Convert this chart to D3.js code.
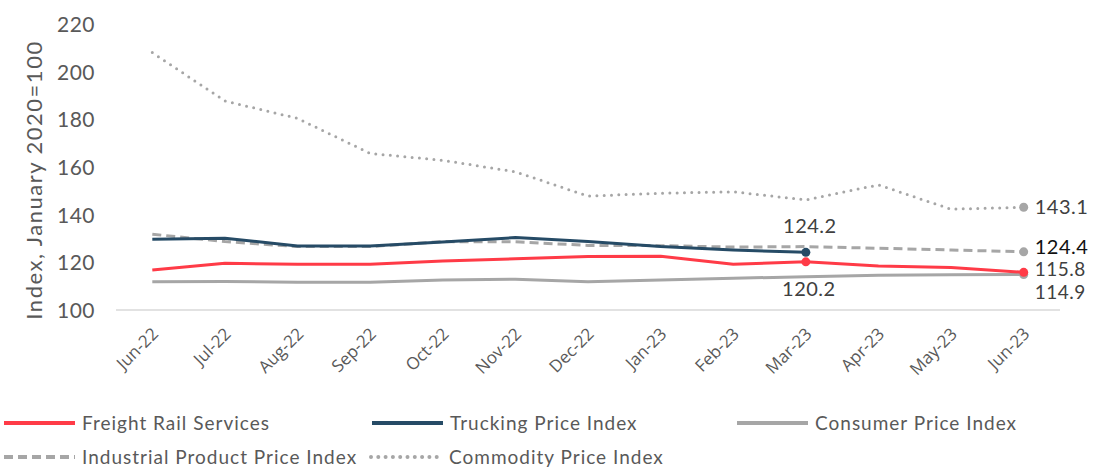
<!DOCTYPE html>
<html><head><meta charset="utf-8">
<script src="https://cdn.jsdelivr.net/npm/d3@7"></script>
<style>
body{margin:0;background:#fff;}
text{font-family:Lato,"Open Sans",sans-serif;}
</style></head>
<body><svg id="c" width="1093" height="469"></svg>
<script>
const months = ["Jun-22","Jul-22","Aug-22","Sep-22","Oct-22","Nov-22","Dec-22","Jan-23","Feb-23","Mar-23","Apr-23","May-23","Jun-23"];
const freightRail = [116.8,119.6,119.2,119.2,120.6,121.5,122.4,122.6,119.2,120.2,118.5,117.8,115.8];
const trucking = [129.7,130.1,126.9,126.9,128.5,130.4,128.7,126.6,125.2,124.2,null,null,null];
const cpi = [111.9,112.0,111.6,111.6,112.6,112.9,111.9,112.6,113.3,114.0,114.6,114.8,114.9];
const industrial = [131.8,128.7,126.6,126.6,128.7,128.6,127.1,127.0,126.4,126.6,125.9,125.2,124.4];
const commodity = [208.0,187.7,180.4,165.7,162.8,158.0,147.8,149.0,149.6,146.2,152.5,142.3,143.1];
const yTicks = [100,120,140,160,180,200,220];
const yTitle = "Index, January 2020=100";

const series = [
  {name:"Freight Rail Services", values:freightRail, color:"#ff3b47", dash:null, width:3},
  {name:"Trucking Price Index", values:trucking, color:"#264b66", dash:null, width:3},
  {name:"Consumer Price Index", values:cpi, color:"#a6a6a6", dash:null, width:3},
  {name:"Industrial Product Price Index", values:industrial, color:"#a6a6a6", dash:"9,5", width:3},
  {name:"Commodity Price Index", values:commodity, color:"#a6a6a6", dash:"0,7.3", width:3, cap:"round"}
];

const svg = d3.select("#c");
const x = d3.scaleBand().domain(months).range([116,1060]).padding(0);
const cx = d => x(d) + x.bandwidth()/2;
const y = d3.scaleLinear().domain([100,220]).range([310,24]);

// baseline
svg.append("line").attr("x1",116).attr("x2",1060).attr("y1",y(100)).attr("y2",y(100))
  .attr("stroke","#d9d9d9").attr("stroke-width",1.5);

// y axis
const yAxis = d3.axisLeft(y).tickValues(yTicks).tickSize(0).tickPadding(0);
const gy = svg.append("g").attr("transform","translate(95,0)").call(yAxis);
gy.select(".domain").remove();
gy.selectAll("text").attr("font-size",21).attr("fill","#595959").attr("dy","0.36em")
  .style("font-family","Lato,sans-serif").style("letter-spacing","0.5px");

svg.append("text").attr("transform","translate(42,180) rotate(-90)")
  .attr("text-anchor","middle").attr("font-size",22).attr("fill","#595959")
  .style("letter-spacing","1.5px").text(yTitle);

// x axis
const xAxis = d3.axisBottom(x).tickSize(0).tickPadding(0);
const gx = svg.append("g").attr("transform","translate(0,310)").call(xAxis);
gx.select(".domain").remove();
gx.selectAll("text").attr("font-size",17).attr("fill","#595959")
  .style("font-family","'Open Sans',sans-serif")
  .attr("text-anchor","end").attr("dy",0).attr("y",0)
  .attr("transform","translate(7,25) rotate(-45)");

// lines
const order = [2,0,3,1,4];
order.forEach(i=>{
  const s = series[i];
  const line = d3.line().defined(d=>d!=null).x((d,j)=>cx(months[j])).y(d=>y(d));
  svg.append("path").datum(s.values).attr("d",line).attr("fill","none")
    .attr("stroke",s.color).attr("stroke-width",s.width)
    .attr("stroke-dasharray",s.dash).attr("stroke-linecap",s.cap||"butt")
    .attr("stroke-linejoin","round");
});

// markers and labels
function marker(vals,idx,color){
  svg.append("circle").attr("cx",cx(months[idx])).attr("cy",y(vals[idx])).attr("r",4.5).attr("fill",color);
}
marker(commodity,12,"#a6a6a6");
marker(industrial,12,"#a6a6a6");
marker(cpi,12,"#a6a6a6");
marker(freightRail,12,"#ff3b47");
marker(freightRail,9,"#ff3b47");
marker(trucking,9,"#264b66");

function label(txt,xp,yp,anchor,color,size){
  svg.append("text").attr("x",xp).attr("y",yp).attr("dy","0.36em").attr("text-anchor",anchor)
    .attr("font-size",size||20).attr("fill",color||"#404040").style("letter-spacing","0.5px").text(txt);
}
label(commodity[12].toFixed(1), cx(months[12])+11, y(commodity[12]),"start");
label(industrial[12].toFixed(1), cx(months[12])+11, y(industrial[12])-5,"start","#111");
label(freightRail[12].toFixed(1), cx(months[12])+11, y(freightRail[12])-3.5,"start",null,19);
label(cpi[12].toFixed(1), cx(months[12])+11, y(cpi[12])+17.5,"start",null,19);
label(trucking[9].toFixed(1), cx(months[9])+4, y(trucking[9])-27,"middle");
label(freightRail[9].toFixed(1), cx(months[9])+3, y(freightRail[9])+27,"middle");

// legend
const legendPos = [[4,423],[372,423],[737,423],[4,457],[371,457]];
series.forEach((s,i)=>{
  const [lx,ly] = legendPos[i];
  const g = svg.append("g");
  g.append("line").attr("x1",lx).attr("x2",lx+71).attr("y1",ly).attr("y2",ly)
    .attr("stroke",s.color).attr("stroke-width",s.width+1)
    .attr("stroke-dasharray",s.dash).attr("stroke-linecap",s.cap||"butt");
  g.append("text").attr("x",lx+78).attr("y",ly).attr("dy","0.36em")
    .attr("font-size",19).attr("fill","#595959").style("letter-spacing","1px").text(s.name);
});
</script></body></html>
